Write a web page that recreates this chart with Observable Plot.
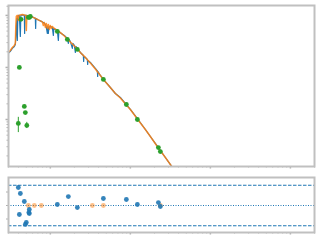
<!DOCTYPE html>
<html>
<head>
<meta charset="utf-8">
<script src="https://cdn.jsdelivr.net/npm/d3@7"></script>
<script src="https://cdn.jsdelivr.net/npm/@observablehq/plot@0.6"></script>
<style>
  html, body { margin: 0; padding: 0; background: #fff; }
  #chart { width: 320px; height: 240px; overflow: hidden; }
  #chart svg { display: block; }
</style>
</head>
<body>
<div id="chart"></div>
<script>
// Observed spectrum (wavelength in micron, flux)
const specWave = [0.2985,0.3162,0.3350,0.3548,0.3652,0.3758,0.3813,0.3868,0.3925,0.3981,0.4097,0.4217,0.4278,0.4467,0.4732,0.4774,0.4815,0.5012,0.5309,0.5623,0.6131,0.6494,0.6551,0.6607,0.7079,0.7723,0.8177,0.8660,0.8913,0.9173,0.9306,0.9441,0.9578,1.0,1.0593,1.0902,1.1059,1.1548,1.2232,1.2589,1.2772,1.3725,1.4962,1.6312,1.6788,1.7031,1.7783,1.8836,1.9110,1.9953,2.0535,2.0833,2.1752,2.3714,2.5852,2.6077,2.6303,2.7384,2.9000,2.9261,2.9512,3.1623,3.6517,3.8681,3.9017,3.9355,4.2170,4.5973,5.6234,6.4938,7.4989,8.9125,10,12.232,15.399,17.783,22.387,27.384,36.517];
const specFlux = [1.86e-10,2.03e-10,2.32e-10,2.53e-10,2.77e-10,5.15e-10,8.76e-10,3.30e-10,9.57e-10,1.0e-9,1.0e-9,3.95e-10,1.0e-9,1.022e-9,1.0e-9,4.51e-10,1.0e-9,1.0e-9,9.78e-10,9.57e-10,9.15e-10,8.76e-10,5.62e-10,8.76e-10,8.19e-10,7.67e-10,7.33e-10,6.71e-10,5.88e-10,4.51e-10,6.14e-10,4.51e-10,5.88e-10,6.14e-10,5.88e-10,4.12e-10,5.62e-10,5.38e-10,5.15e-10,3.30e-10,4.92e-10,4.51e-10,4.12e-10,3.61e-10,2.89e-10,3.46e-10,3.16e-10,2.32e-10,2.89e-10,2.65e-10,1.94e-10,2.53e-10,2.32e-10,1.94e-10,1.70e-10,1.30e-10,1.63e-10,1.56e-10,1.42e-10,1.14e-10,1.36e-10,1.25e-10,9.57e-11,8.56e-11,6.71e-11,8.38e-11,7.02e-11,5.88e-11,4.12e-11,3.16e-11,2.65e-11,1.94e-11,1.56e-11,1.045e-11,6.42e-12,4.71e-12,2.89e-12,1.86e-12,1.0e-12];

// Model spectrum
const modelWave = [0.2985,0.3162,0.3350,0.3548,0.3652,0.3705,0.3758,0.3868,0.3981,0.4039,0.4217,0.4467,0.4732,0.4941,0.5012,0.5085,0.5309,0.5623,0.6131,0.6683,0.7289,0.7943,0.8177,0.8414,0.8660,0.8913,0.9173,0.9441,0.9716,1.0,1.0292,1.0593,1.1220,1.2232,1.3725,1.4962,1.6312,1.7783,1.9953,2.1752,2.3714,2.7384,3.1623,3.6517,4.2170,4.5973,5.6234,6.4938,7.4989,8.9125,10,12.232,15.399,17.783,22.387,27.384,36.517];
const modelFlux = [1.94e-10,2.12e-10,2.42e-10,2.65e-10,2.89e-10,6.42e-10,9.57e-10,1.0e-9,8.01e-10,1.0e-9,1.022e-9,1.045e-9,1.022e-9,1.0e-9,5.15e-10,1.0e-9,9.78e-10,9.57e-10,9.15e-10,8.56e-10,8.01e-10,7.50e-10,6.42e-10,7.33e-10,5.88e-10,7.02e-10,5.62e-10,6.71e-10,5.38e-10,6.42e-10,5.62e-10,6.14e-10,5.62e-10,5.15e-10,4.51e-10,4.03e-10,3.53e-10,3.09e-10,2.59e-10,2.27e-10,1.94e-10,1.56e-10,1.22e-10,9.36e-11,7.02e-11,5.88e-11,4.12e-11,3.16e-11,2.59e-11,1.90e-11,1.56e-11,1.022e-11,6.42e-12,4.71e-12,2.83e-12,1.86e-12,1.0e-12];

// Photometry
const photWave = [0.398,0.410,0.430,0.473,0.487,0.508,0.531,0.546,0.562,1.223,1.631,2.175,4.60,8.91,12.23,22.4,23.7];
const photFlux = [8.4e-12,1.0e-10,8.4e-10,1.78e-11,1.36e-11,7.7e-12,9.15e-10,9.15e-10,9.57e-10,4.92e-10,3.46e-10,2.22e-10,5.88e-11,1.94e-11,1.0e-11,2.89e-12,2.42e-12];
const photLo = [5.6e-12,null,null,null,null,6.7e-12,null,null,null,null,null,null,null,null,null,null,null];
const photHi = [1.1e-11,null,null,null,null,8.8e-12,null,null,null,null,null,null,null,null,null,null,null];

// Residuals
const resWave = [0.398,0.422,0.473,0.410,0.546,0.546,0.539,0.501,0.487,1.223,1.679,2.175,4.60,8.91,12.23,22.4,23.7];
const resVal = [2.67,1.78,0.59,-1.33,-0.59,-1.19,-1.04,-2.52,-2.81,0.15,1.33,-0.30,1.04,0.89,0.15,0.44,-0.15];
const resZeroWave = [0.531,0.631,0.772,3.35,4.60,23.7];
const resZeroVal = [0,0,0,0,0,0];
const resLimits = [-3, 3];
const resCenter = [0];

// Ticks (no labels)
const xMajorTicks = [1, 10, 100, 1000];
const xMinorTicks = [0.3,0.4,0.5,0.6,0.7,0.8,0.9,2,3,4,5,6,7,8,9,20,30,40,50,60,70,80,90,200,300,400,500,600,700,800,900,2000];
const yMajorTicks = [1e-11, 1e-10, 1e-9];
const yMinorTicks = [2e-12,3e-12,4e-12,5e-12,6e-12,7e-12,8e-12,9e-12,2e-11,3e-11,4e-11,5e-11,6e-11,7e-11,8e-11,9e-11,2e-10,3e-10,4e-10,5e-10,6e-10,7e-10,8e-10,9e-10,1.5e-9];
const resTicks = [-2, 0, 2];

const spec = specWave.map((w, i) => ({w, f: specFlux[i]}));
const model = modelWave.map((w, i) => ({w, f: modelFlux[i]}));
const phot = photWave.map((w, i) => ({w, f: photFlux[i], lo: photLo[i], hi: photHi[i]}));
const photErr = phot.filter(d => d.lo != null);
const res = resWave.map((w, i) => ({w, r: resVal[i]}));
const resZero = resZeroWave.map((w, i) => ({w, r: resZeroVal[i]}));

const frameColor = "#c0c0c0";
const tickColor = "#b0b0b0";
const blue = "#1f77b4", orange = "#ff7f0e", green = "#2ca02c";
const xDomain = [0.3, 2000];
const none = () => "";

const main = Plot.plot({
  width: 320, height: 170,
  marginTop: 5, marginBottom: 4, marginLeft: 8, marginRight: 6,
  x: {type: "log", domain: xDomain, label: null},
  y: {type: "log", domain: [1.25e-12, 1.55e-9], label: null},
  marks: [
    Plot.line(spec, {x: "w", y: "f", stroke: blue, strokeWidth: 1.2, clip: true}),
    Plot.line(model, {x: "w", y: "f", stroke: orange, strokeWidth: 1.5, strokeOpacity: 0.85, clip: true}),
    Plot.ruleX(photErr, {x: "w", y1: "lo", y2: "hi", stroke: green, strokeWidth: 1}),
    Plot.dot(phot, {x: "w", y: "f", r: 2.4, fill: green, stroke: "none"}),
    Plot.axisX(xMinorTicks, {tickSize: 1.5, tickFormat: none, label: null, stroke: tickColor}),
    Plot.axisX(xMajorTicks, {tickSize: 2.5, strokeWidth: 1.5, tickFormat: none, label: null, stroke: tickColor}),
    Plot.axisY(yMinorTicks, {tickSize: 1.5, tickFormat: none, label: null, stroke: tickColor}),
    Plot.axisY(yMajorTicks, {tickSize: 2.5, strokeWidth: 1.5, tickFormat: none, label: null, stroke: tickColor}),
    Plot.frame({stroke: frameColor, strokeWidth: 2})
  ]
});

const resid = Plot.plot({
  width: 320, height: 70,
  marginTop: 7, marginBottom: 8, marginLeft: 8, marginRight: 6,
  x: {type: "log", domain: xDomain, label: null},
  y: {domain: [-4.0, 4.15], label: null},
  marks: [
    Plot.ruleY(resLimits, {stroke: blue, strokeWidth: 1, strokeDasharray: "3.5,1.5"}),
    Plot.ruleY(resCenter, {stroke: blue, strokeWidth: 1, strokeDasharray: "1,1.5"}),
    Plot.dot(resZero, {x: "w", y: "r", r: 2.4, fill: orange, fillOpacity: 0.5, stroke: "none"}),
    Plot.dot(res, {x: "w", y: "r", r: 2.4, fill: blue, fillOpacity: 0.9, stroke: "none"}),
    Plot.axisX(xMinorTicks, {tickSize: 1.5, tickFormat: none, label: null, stroke: tickColor}),
    Plot.axisX(xMajorTicks, {tickSize: 2.5, strokeWidth: 1.5, tickFormat: none, label: null, stroke: tickColor}),
    Plot.axisY(resTicks, {tickSize: 2, tickFormat: none, label: null, stroke: tickColor}),
    Plot.frame({stroke: frameColor, strokeWidth: 2})
  ]
});

const el = document.getElementById("chart");
el.appendChild(main);
el.appendChild(resid);
</script>
</body>
</html>
